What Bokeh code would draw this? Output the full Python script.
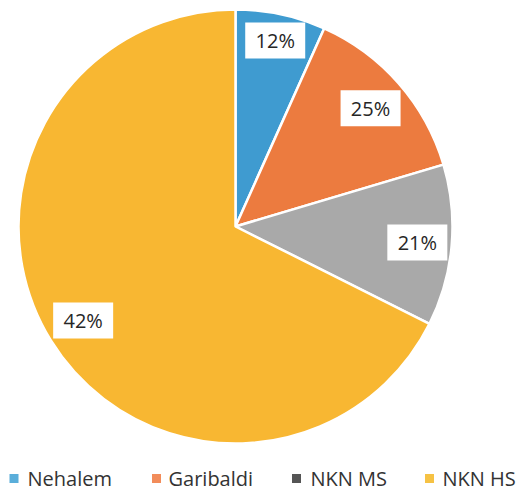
import math
from bokeh.plotting import figure
from bokeh.models import Range1d, ColumnDataSource
from bokeh.core.properties import value
from bokeh.embed import file_html
from bokeh.resources import INLINE

# ---- data ----
categories = ["Nehalem", "Garibaldi", "NKN MS", "NKN HS"]
slice_shares = [6.7, 13.7, 12.0, 67.6]          # slice sizes as drawn (percent of circle)
label_texts = ["12%", "25%", "21%", "42%"]       # data labels as printed
slice_colors = ["#3F9BD0", "#EC7B3F", "#A9A9A9", "#F8B732"]
legend_colors = ["#5AAEDA", "#F28C5A", "#555555", "#F6C244"]

# ---- layout (pixel-like data space: x = page x, y = -page y) ----
W, H = 516, 492
CX, CY, R = 235, -226, 217
BOX_W, BOX_H = 60, 36
LEG_MARK_X = [13.5, 156, 296, 429]
LEG_TEXT_X = [27, 168, 310, 442]
LEG_Y = -478

total = sum(slice_shares)
starts, ends, lx, ly = [], [], [], []
cum = 0.0
for s in slice_shares:
    f0 = cum / total
    cum += s
    f1 = cum / total
    starts.append(math.pi / 2 - 2 * math.pi * f1)
    ends.append(math.pi / 2 - 2 * math.pi * f0)
    th = 2 * math.pi * (f0 + f1) / 2      # clockwise from top
    sx, sy = math.sin(th), math.cos(th)
    extent = (BOX_W / 2) * abs(sx) + (BOX_H / 2) * abs(sy)
    d = R - extent - 3
    lx.append(CX + d * sx)
    ly.append(CY + d * sy)

src = ColumnDataSource(dict(cat=categories, start=starts, end=ends,
                            color=slice_colors, lx=lx, ly=ly, label=label_texts))

p = figure(width=W, height=H, output_backend="svg", toolbar_location=None,
           x_range=Range1d(0, W), y_range=Range1d(-H, 0),
           x_axis_location=None, y_axis_location=None, min_border=0,
           outline_line_color=None, background_fill_color="white")
p.grid.visible = False

p.wedge(x=CX, y=CY, radius=R, start_angle="start", end_angle="end",
        direction="anticlock", fill_color="color", line_color="white",
        line_width=2.5, source=src)

p.rect(x="lx", y="ly", width=BOX_W, height=BOX_H, fill_color="white",
       line_color=None, source=src)
p.text(x="lx", y="ly", text="label", text_align="center", text_baseline="middle",
       text_font=value("Open Sans"), text_font_size="20px", text_color="#262626",
       source=src)

# legend (drawn manually to match the reference layout)
leg = ColumnDataSource(dict(mx=LEG_MARK_X, my=[LEG_Y] * 4, tx=LEG_TEXT_X,
                            ty=[LEG_Y] * 4, name=categories, color=legend_colors))
p.scatter(x="mx", y="my", marker="square", size=9, fill_color="color",
          line_color=None, source=leg)
p.text(x="tx", y="ty", text="name", text_align="left", text_baseline="middle",
       text_font=value("Open Sans"), text_font_size="20px", text_color="#333333",
       source=leg)

open("out.html", "w").write(file_html(p, INLINE))
